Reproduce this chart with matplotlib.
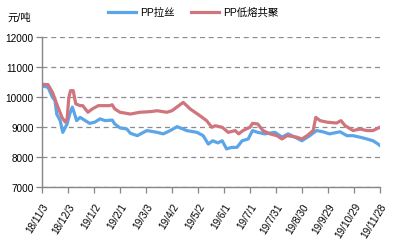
import matplotlib
matplotlib.use("Agg")
import matplotlib.pyplot as plt
import pandas as pd

plt.rcParams['font.family'] = ['Liberation Sans', 'Noto Sans CJK SC', 'DejaVu Sans']

# PP拉丝 (元/吨)
la_si_dates = ["2018-11-03", "2018-11-10", "2018-11-15", "2018-11-18", "2018-11-20",
               "2018-11-24", "2018-11-27", "2018-11-30", "2018-12-02", "2018-12-05",
               "2018-12-08", "2018-12-10", "2018-12-13", "2018-12-17", "2018-12-23",
               "2018-12-28", "2019-01-03", "2019-01-09", "2019-01-15", "2019-01-23",
               "2019-01-26", "2019-02-01", "2019-02-09", "2019-02-13", "2019-02-21",
               "2019-03-04", "2019-03-16", "2019-03-23", "2019-03-31", "2019-04-08",
               "2019-04-19", "2019-05-01", "2019-05-08", "2019-05-14", "2019-05-19",
               "2019-05-25", "2019-05-30", "2019-06-04", "2019-06-10", "2019-06-16",
               "2019-06-22", "2019-06-29", "2019-07-04", "2019-07-10", "2019-07-18",
               "2019-07-30", "2019-08-07", "2019-08-14", "2019-08-22", "2019-08-30",
               "2019-09-08", "2019-09-16", "2019-09-23", "2019-10-01", "2019-10-13",
               "2019-10-21", "2019-10-28", "2019-11-05", "2019-11-13", "2019-11-20",
               "2019-11-26", "2019-11-28"]
la_si = [10370, 10320, 9990, 9880, 9430, 9210, 8820, 8990, 9100, 9430,
         9660, 9490, 9210, 9320, 9210, 9120, 9160, 9270, 9210, 9230,
         9100, 8970, 8930, 8790, 8710, 8880, 8820, 8770, 8880, 9010,
         8880, 8820, 8710, 8430, 8540, 8470, 8540, 8270, 8320, 8320,
         8540, 8600, 8880, 8820, 8770, 8820, 8660, 8770, 8660, 8540,
         8710, 8880, 8840, 8770, 8840, 8710, 8710, 8660, 8600, 8540,
         8430, 8380]

# PP低熔共聚 (元/吨)
di_rong_dates = ["2018-11-03", "2018-11-10", "2018-11-15", "2018-11-20", "2018-11-26",
                 "2018-11-30", "2018-12-02", "2018-12-04", "2018-12-06", "2018-12-09",
                 "2018-12-12", "2018-12-17", "2018-12-20", "2018-12-26", "2018-12-31",
                 "2019-01-07", "2019-01-20", "2019-01-23", "2019-01-26", "2019-02-01",
                 "2019-02-07", "2019-02-13", "2019-02-24", "2019-03-08", "2019-03-16",
                 "2019-03-27", "2019-04-02", "2019-04-15", "2019-04-23", "2019-05-04",
                 "2019-05-12", "2019-05-18", "2019-05-22", "2019-05-30", "2019-06-06",
                 "2019-06-14", "2019-06-18", "2019-06-23", "2019-07-01", "2019-07-04",
                 "2019-07-10", "2019-07-16", "2019-07-24", "2019-08-01", "2019-08-07",
                 "2019-08-13", "2019-08-24", "2019-08-30", "2019-09-05", "2019-09-12",
                 "2019-09-15", "2019-09-20", "2019-09-28", "2019-10-09", "2019-10-14",
                 "2019-10-19", "2019-10-28", "2019-11-05", "2019-11-13", "2019-11-20",
                 "2019-11-28"]
di_rong = [10420, 10410, 10160, 9770, 9320, 9160, 9270, 9990, 10210, 10210,
           9770, 9710, 9710, 9490, 9600, 9710, 9710, 9740, 9600, 9490,
           9460, 9430, 9490, 9510, 9540, 9490, 9540, 9820, 9600, 9380,
           9210, 8990, 9040, 8990, 8820, 8880, 8770, 8880, 8990, 9120,
           9100, 8880, 8770, 8710, 8600, 8710, 8660, 8600, 8710, 8880,
           9320, 9210, 9160, 9130, 9210, 9040, 8880, 8930, 8880, 8880,
           8990]

tick_dates = pd.date_range("2018-11-03", periods=14, freq="30D")
yticks = [7000, 8000, 9000, 10000, 11000, 12000]

BLUE = "#5aa6e8"
RED = "#d0747d"
AXIS = "#868686"

fig = plt.figure(figsize=(3.98, 2.51), dpi=100)
ax = fig.add_axes([0.1055, 0.251, 0.849, 0.598])

ax.plot(pd.to_datetime(la_si_dates), la_si, color=BLUE, lw=2.3, label="PP拉丝",
        solid_joinstyle="round")
ax.plot(pd.to_datetime(di_rong_dates), di_rong, color=RED, lw=2.3, label="PP低熔共聚",
        solid_joinstyle="round")

ax.set_ylim(7000, 12000)
ax.set_yticks(yticks)
ax.set_xlim(tick_dates[0], tick_dates[-1])
ax.set_xticks(tick_dates)
ax.set_xticklabels([f"{d.year % 100}/{d.month}/{d.day}" for d in tick_dates],
                   rotation=58, ha="right", rotation_mode="anchor")

ax.grid(axis="y", color="#8c8c8c", linestyle=(0, (4, 3)), linewidth=0.9)
ax.set_axisbelow(True)
for s in ("top", "right"):
    ax.spines[s].set_visible(False)
for s in ("left", "bottom"):
    ax.spines[s].set_color(AXIS)
    ax.spines[s].set_linewidth(1.0)
ax.tick_params(axis="both", colors=AXIS, labelcolor="#000000", labelsize=7.2,
               length=4, width=0.9, pad=2)
ax.tick_params(axis="x", pad=6)

fig.text(0.02, 0.93, "元/吨", fontsize=7.5, va="center", ha="left")
fig.legend(loc="center", bbox_to_anchor=(0.485, 0.948), ncol=2, frameon=False,
           fontsize=7.5, handlelength=2.7, handletextpad=0.4, columnspacing=1.6,
           borderaxespad=0)

fig.savefig("out.png", dpi=100)
